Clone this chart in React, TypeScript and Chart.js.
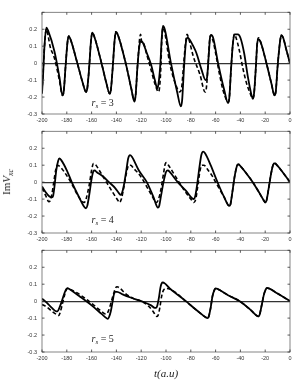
import { useEffect, useRef } from 'react';
import { Chart, registerables } from 'chart.js';
Chart.register(...registerables);

const xTickValues = [-200, -180, -160, -140, -120, -100, -80, -60, -40, -20, 0];
const yTickValues = [-0.3, -0.2, -0.1, 0, 0.1, 0.2, 0.3];
const panelLabels = ['3', '4', '5'];

// ---- r_s = 3 ----
const t1Solid = [-200,-199,-198,-196.5,-195,-190,-186,-183.5,-182.5,-181,-179.5,-178.5,-177,-171.5,-167,-164.5,-163.5,-162,-160.5,-159.5,-158,-152,-148,-145.5,-144.5,-143,-141.5,-140.5,-139,-132.5,-128,-125.5,-124.5,-123,-121.5,-120.5,-119,-115.5,-112,-109,-107,-106,-104.5,-103.5,-102.5,-101,-96,-91,-88,-87,-85.5,-84,-82.5,-81,-78,-75.5,-71.5,-68,-67,-65.5,-64.5,-63.5,-62,-58,-53,-50,-49,-47.5,-46,-44.5,-42,-40,-37,-34,-31,-30,-29,-27.5,-26.5,-25.5,-24,-19,-15,-12.5,-11.5,-10,-8,-7,-5.5,-3,0];
const v1Solid = [-0.18,-0.05,0.10,0.21,0.19,0.07,-0.08,-0.19,-0.17,-0.02,0.12,0.16,0.14,0.0,-0.12,-0.17,-0.15,-0.03,0.13,0.18,0.16,0.0,-0.12,-0.18,-0.16,-0.03,0.13,0.185,0.17,0.0,-0.15,-0.227,-0.19,-0.02,0.10,0.13,0.125,0.06,-0.01,-0.10,-0.15,-0.12,0.0,0.14,0.22,0.20,0.0,-0.17,-0.255,-0.22,-0.03,0.12,0.15,0.14,0.10,0.06,-0.035,-0.10,-0.09,0.05,0.15,0.167,0.15,0.0,-0.16,-0.235,-0.21,-0.03,0.12,0.17,0.17,0.15,0.06,-0.08,-0.19,-0.21,-0.18,-0.02,0.11,0.14,0.13,0.0,-0.12,-0.19,-0.17,-0.02,0.13,0.165,0.15,0.08,0.0];
const t1Dash = [-200,-199,-198,-196.5,-195,-193.5,-190,-186,-183.5,-182.5,-181,-179.5,-178.5,-177,-171.5,-167,-164.5,-163.5,-162,-160.5,-159.5,-158,-152,-148,-145.5,-144.5,-143,-141.5,-140.5,-139,-132.5,-128,-125.5,-124.5,-123,-120.5,-119.5,-118.5,-115.5,-112,-109,-106,-105,-104,-103.5,-102.5,-101,-97,-92,-89,-87.5,-86,-84.5,-83,-81.5,-78,-72.5,-68.5,-67.5,-66,-65,-64,-62,-60,-57,-54,-51,-50,-49,-47.5,-46,-45,-44,-41,-38,-35,-32,-30,-29,-27.5,-26.5,-25.5,-24,-19,-15,-12.5,-11.5,-10,-8,-7,-5.5,-3,0];
const v1Dash = [-0.17,-0.04,0.10,0.20,0.16,0.10,0.03,-0.10,-0.19,-0.17,-0.02,0.12,0.16,0.14,0.0,-0.12,-0.17,-0.15,-0.03,0.13,0.18,0.16,0.0,-0.12,-0.18,-0.16,-0.03,0.13,0.185,0.17,0.0,-0.15,-0.22,-0.19,-0.02,0.17,0.12,0.12,0.05,-0.04,-0.12,-0.17,-0.13,0.0,0.12,0.21,0.18,0.0,-0.13,-0.17,-0.15,-0.03,0.10,0.17,0.14,0.04,-0.07,-0.17,-0.15,0.0,0.12,0.165,0.13,0.06,-0.06,-0.16,-0.22,-0.23,-0.21,-0.03,0.12,0.17,0.16,0.08,-0.03,-0.12,-0.18,-0.21,-0.18,-0.02,0.11,0.15,0.13,0.0,-0.12,-0.19,-0.17,-0.02,0.13,0.165,0.15,0.08,0.0];

// ---- r_s = 4 ----
const t2Solid = [-200,-197,-194,-192,-191,-190,-188.5,-187,-186,-184.5,-180,-176,-170,-166,-164.5,-163.5,-162,-160,-158.5,-157.5,-156,-151,-146,-141,-138,-136.5,-135.5,-134,-132,-130.5,-129,-127.5,-122,-115.5,-110,-106.5,-105.5,-104,-102,-100,-98.5,-97,-90.5,-84,-79,-77.5,-76.5,-75,-73,-71.5,-70,-68.5,-64,-58.5,-53,-49,-48,-46.5,-44.5,-42.5,-41.5,-40,-35,-30,-25,-21,-20,-19,-17.5,-15,-13,-12,-10.5,-5,0];
const v2Solid = [-0.025,-0.06,-0.085,-0.09,-0.08,-0.03,0.07,0.125,0.14,0.13,0.07,0.0,-0.09,-0.145,-0.155,-0.14,-0.08,0.02,0.065,0.07,0.06,0.035,0.0,-0.035,-0.065,-0.075,-0.065,-0.02,0.07,0.14,0.16,0.15,0.07,0.0,-0.09,-0.15,-0.14,-0.08,0.0,0.06,0.07,0.06,0.0,-0.05,-0.095,-0.10,-0.085,-0.02,0.09,0.16,0.18,0.17,0.10,0.0,-0.09,-0.14,-0.13,-0.06,0.04,0.10,0.105,0.095,0.05,0.0,-0.06,-0.11,-0.12,-0.11,-0.05,0.06,0.11,0.11,0.10,0.05,0.0];
const t2Dash = [-200,-197,-194.5,-193.5,-192,-190.5,-189,-187.5,-186,-182,-176,-171,-167.5,-166,-164.5,-162,-160,-158.5,-157,-153,-148,-143,-139,-137.5,-136,-134,-132,-130,-128.5,-126,-121,-116,-111,-108,-106.5,-104,-102,-100.5,-99.5,-98,-92,-86,-80,-77.5,-76,-74.5,-72.5,-71,-69.5,-66,-63,-60,-53,-49,-48,-46.5,-44.5,-42.5,-41.5,-40,-35,-30,-25,-21,-20,-19,-17.5,-15,-13,-12,-10.5,-5,0];
const v2Dash = [-0.035,-0.08,-0.115,-0.11,-0.07,0.0,0.07,0.10,0.095,0.06,-0.01,-0.08,-0.115,-0.12,-0.10,-0.02,0.07,0.11,0.105,0.06,0.0,-0.06,-0.105,-0.12,-0.10,-0.03,0.05,0.10,0.10,0.08,0.04,-0.02,-0.085,-0.12,-0.11,-0.04,0.05,0.11,0.115,0.10,0.03,-0.04,-0.10,-0.12,-0.10,-0.03,0.07,0.10,0.10,0.07,0.04,0.0,-0.09,-0.14,-0.13,-0.06,0.04,0.10,0.105,0.095,0.05,0.0,-0.06,-0.11,-0.12,-0.11,-0.05,0.06,0.11,0.11,0.10,0.05,0.0];

// ---- r_s = 5 ----
const t3Solid = [-200,-196,-192,-188.5,-187.5,-186,-184,-182,-180.5,-179.5,-178,-170,-160,-152,-148,-147,-146,-144.5,-143,-142,-141,-139.5,-135,-128,-120,-112,-109,-108,-107,-105.5,-104.5,-103.5,-102.5,-101,-97,-84,-75,-68,-66.5,-65.5,-64,-62.5,-61,-60,-58.5,-50,-40.5,-32,-27,-25.5,-24.5,-23,-21,-19.5,-18.5,-17,-10,0];
const v3Solid = [0.015,-0.01,-0.04,-0.06,-0.06,-0.04,0.0,0.045,0.07,0.077,0.072,0.03,-0.025,-0.075,-0.10,-0.105,-0.095,-0.06,0.0,0.04,0.055,0.055,0.04,0.02,0.0,-0.025,-0.04,-0.04,-0.025,0.03,0.08,0.105,0.11,0.105,0.075,0.0,-0.055,-0.095,-0.10,-0.09,-0.04,0.03,0.065,0.075,0.072,0.035,0.0,-0.05,-0.085,-0.09,-0.08,-0.03,0.04,0.07,0.078,0.075,0.045,0.0];
const t3Dash = [-200,-196,-192,-188,-186.5,-185.5,-184,-182,-180.5,-179.5,-178,-172,-165,-158,-152,-149,-148,-146,-144,-142,-140.5,-139.5,-137,-132,-126,-120,-114,-110,-107.5,-106.5,-105,-103.5,-102,-100,-97,-92,-85,-75,-68,-66.5,-65.5,-64,-62.5,-61,-60,-58.5,-50,-40.5,-32,-27,-25.5,-24.5,-23,-21,-19.5,-18.5,-17,-10,0];
const v3Dash = [-0.02,-0.035,-0.06,-0.08,-0.085,-0.07,-0.03,0.03,0.065,0.075,0.072,0.05,0.015,-0.025,-0.06,-0.075,-0.075,-0.05,0.0,0.05,0.08,0.085,0.075,0.04,0.015,0.0,-0.03,-0.065,-0.09,-0.085,-0.04,0.03,0.065,0.075,0.072,0.05,0.005,-0.055,-0.095,-0.10,-0.09,-0.04,0.03,0.065,0.075,0.072,0.035,0.0,-0.05,-0.085,-0.09,-0.08,-0.03,0.04,0.07,0.078,0.075,0.045,0.0];

const CANVAS_W = 299;
const PAD_TOP = 6;
const AREA_H = 104;
const XAXIS_H = 12;

const toXY = (t: number[], v: number[]) => t.map((x, i) => ({ x, y: v[i] }));

const framePlugin = {
  id: 'matlabFrame',
  afterDraw(chart: any, _args: any, opts: any) {
    const { ctx, chartArea: a, scales } = chart;
    ctx.save();
    ctx.strokeStyle = '#666';
    ctx.lineWidth = 0.8;
    ctx.strokeRect(a.left, a.top, a.right - a.left, a.bottom - a.top);
    ctx.strokeStyle = '#333';
    const len = 2.5;
    ctx.beginPath();
    for (const tk of scales.x.ticks) {
      const px = scales.x.getPixelForValue(tk.value);
      ctx.moveTo(px, a.bottom); ctx.lineTo(px, a.bottom - len);
      ctx.moveTo(px, a.top); ctx.lineTo(px, a.top + len);
    }
    for (const tk of scales.y.ticks) {
      const py = scales.y.getPixelForValue(tk.value);
      ctx.moveTo(a.left, py); ctx.lineTo(a.left + len, py);
      ctx.moveTo(a.right, py); ctx.lineTo(a.right - len, py);
    }
    ctx.stroke();
    // r_s label
    const px = scales.x.getPixelForValue(opts.labelT);
    const py = scales.y.getPixelForValue(opts.labelV);
    ctx.fillStyle = '#222';
    ctx.textBaseline = 'alphabetic';
    ctx.font = 'italic 10px "Liberation Serif"';
    ctx.fillText('r', px, py);
    let x = px + ctx.measureText('r').width;
    ctx.font = 'italic 7px "Liberation Serif"';
    ctx.fillText('s', x, py + 2);
    x += ctx.measureText('s').width;
    ctx.font = '10px "Liberation Serif"';
    ctx.fillText(' = ' + opts.label, x, py);
    ctx.restore();
  },
};

function Panel(props: { top: number; solid: { x: number; y: number }[]; dash: { x: number; y: number }[]; label: string; labelT: number; labelV: number }) {
  const ref = useRef<HTMLCanvasElement | null>(null);
  useEffect(() => {
    const canvas = ref.current!;
    const chart = new Chart(canvas, {
      type: 'line',
      data: {
        datasets: [
          { data: props.solid, borderColor: '#000', borderWidth: 1.8, pointRadius: 0, cubicInterpolationMode: 'monotone', fill: false },
          { data: props.dash, borderColor: '#000', borderWidth: 1.6, borderDash: [4, 2.5], pointRadius: 0, cubicInterpolationMode: 'monotone', fill: false },
        ],
      },
      options: {
        animation: false,
        responsive: false,
        devicePixelRatio: 1,
        layout: { padding: { left: 0, right: 9, top: PAD_TOP, bottom: 0 } },
        plugins: {
          legend: { display: false },
          tooltip: { enabled: false },
          matlabFrame: { label: props.label, labelT: props.labelT, labelV: props.labelV },
        } as any,
        scales: {
          x: {
            type: 'linear',
            min: -200,
            max: 0,
            afterBuildTicks: (s: any) => { s.ticks = xTickValues.map((value) => ({ value })); },
            afterFit: (s: any) => { s.height = XAXIS_H; },
            grid: { display: false, drawTicks: false },
            border: { display: false },
            ticks: { padding: 3, maxRotation: 0, autoSkip: false, color: '#333', font: { family: 'Liberation Sans', size: 5.5 }, callback: (v: any) => String(v) },
          },
          y: {
            type: 'linear',
            min: -0.3,
            max: 0.3,
            afterBuildTicks: (s: any) => { s.ticks = yTickValues.map((value) => ({ value })); },
            afterFit: (s: any) => { s.width = 42; },
            grid: {
              drawTicks: false,
              color: (c: any) => (c.tick && Math.abs(c.tick.value) < 1e-9 ? '#333' : 'rgba(0,0,0,0)'),
              lineWidth: 1.2,
            },
            border: { display: false },
            ticks: {
              padding: 5,
              autoSkip: false,
              color: '#333',
              font: { family: 'Liberation Sans', size: 5.5 },
              callback: (v: any) => {
                const r = Math.round(Number(v) * 10) / 10;
                if (r === 0.3) return '';
                return r === 0 ? '0' : String(r);
              },
            },
          },
        },
      },
      plugins: [framePlugin],
    } as any);
    return () => chart.destroy();
  }, []);
  const h = PAD_TOP + AREA_H + XAXIS_H;
  return (
    <canvas
      ref={ref}
      width={CANVAS_W}
      height={h}
      style={{ position: 'absolute', left: 0, top: props.top - PAD_TOP, width: CANVAS_W, height: h }}
    />
  );
}

export default function App() {
  const tops = [10, 129, 248];
  return (
    <div style={{ position: 'fixed', left: 0, top: 0, width: 299, height: 389, background: '#fff', overflow: 'hidden' }}>
      <Panel top={tops[0]} solid={toXY(t1Solid, v1Solid)} dash={toXY(t1Dash, v1Dash)} label={panelLabels[0]} labelT={-160} labelV={-0.25} />
      <Panel top={tops[1]} solid={toXY(t2Solid, v2Solid)} dash={toXY(t2Dash, v2Dash)} label={panelLabels[1]} labelT={-160} labelV={-0.24} />
      <Panel top={tops[2]} solid={toXY(t3Solid, v3Solid)} dash={toXY(t3Dash, v3Dash)} label={panelLabels[2]} labelT={-160} labelV={-0.24} />
      <div
        style={{
          position: 'absolute', left: 7.5, top: 182, transform: 'translate(-50%, -50%) rotate(-90deg)',
          fontFamily: '"Liberation Serif"', fontSize: 11, whiteSpace: 'nowrap', color: '#222', lineHeight: 1,
        }}
      >
        Im<i>V</i><sub style={{ fontSize: '0.7em', fontStyle: 'italic' }}>xc</sub>
      </div>
      <div
        style={{
          position: 'absolute', left: 166, top: 373, transform: 'translate(-50%, -50%)',
          fontFamily: '"Liberation Serif"', fontStyle: 'italic', fontSize: 11, whiteSpace: 'nowrap', color: '#222', lineHeight: 1,
        }}
      >
        t(a.u)
      </div>
    </div>
  );
}
